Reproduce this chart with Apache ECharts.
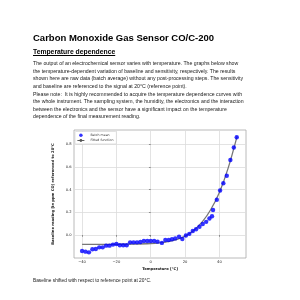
<!DOCTYPE html>
<html>
<head>
<meta charset="utf-8">
<script src="https://cdn.jsdelivr.net/npm/echarts@6/dist/echarts.min.js"></script>
<style>
body { margin: 0; background: #fff; }
#page { position: relative; width: 300px; height: 300px; overflow: hidden; font-family: 'Liberation Sans', Arial, sans-serif; color: #1a1a1a; }
#main { position: absolute; left: 0; top: 0; width: 300px; height: 300px; }
.t { position: absolute; left: 33px; white-space: pre; }
#title { top: 33px; font-size: 9.5px; line-height: 9.5px; font-weight: bold; color: #000; }
#sub { top: 49.3px; font-size: 6.8px; line-height: 6.8px; font-weight: bold; text-decoration: underline; color: #000; }
#para { top: 60.4px; font-size: 5.2px; line-height: 7.55px; }
#cap { top: 277.8px; font-size: 4.8px; line-height: 5px; }
</style>
</head>
<body>
<div id="page">
  <div id="main"></div>
  <div class="t" id="title">Carbon Monoxide Gas Sensor CO/C-200</div>
  <div class="t" id="sub">Temperature dependence</div>
  <div class="t" id="para">The output of an electrochemical sensor varies with temperature. The graphs below show
the temperature-dependent variation of baseline and sensitivity, respectively. The results
shown here are raw data (batch average) without any post-processing steps. The sensitivity
and baseline are referenced to the signal at 20°C (reference point).
Please note:  It is highly recommended to acquire the temperature dependence curves with
the whole instrument. The sampling system, the humidity, the electronics and the interaction
between the electronics and the sensor have a significant impact on the temperature
dependence of the final measurement reading.</div>
  <div class="t" id="cap">Baseline shifted with respect to reference point at 20°C.</div>
</div>
<script>
// batch mean points (temperature in °C, baseline in ppm CO)
var temps = [-40, -38, -36, -34, -32, -30, -28, -26, -24, -22, -20, -18, -16, -14, -12, -10, -8, -6, -4, -2,
    0, 2, 4, 6.5, 8.5, 10.5, 12.4, 14.3, 16.5, 18.4, 20.5, 22.5, 24.5, 26.4, 28.4, 30.3, 32.3, 34.2, 35.7, 36.3,
    38.5, 40.4, 42.3, 44.3, 46.4, 48.4, 50.1];
var batchMean = [-0.141, -0.147, -0.153, -0.126, -0.123, -0.109, -0.109, -0.094, -0.094, -0.085, -0.079, -0.091,
    -0.091, -0.091, -0.065, -0.065, -0.065, -0.062, -0.053, -0.053, -0.053, -0.053, -0.059, -0.070, -0.044, -0.044,
    -0.038, -0.030, -0.015, -0.035, -0.004, 0.010, 0.035, 0.050, 0.072, 0.097, 0.116, 0.145, 0.165, 0.220,
    0.311, 0.392, 0.456, 0.522, 0.662, 0.771, 0.862];

// fitted function
var fitTemps = [-40, -30, -20, -10, 0, 5, 10, 15, 20, 25, 30, 35, 40, 45, 50.3];
var fitValues = [-0.083, -0.083, -0.082, -0.080, -0.075, -0.069, -0.058, -0.040, -0.010, 0.040, 0.115, 0.225, 0.375, 0.585, 0.870];

var xTicks = [-40, -20, 0, 20, 40];
var yTicks = [0, 0.2, 0.4, 0.6, 0.8];

var pts = [];
for (var i = 0; i < temps.length; i++) {
    pts.push([temps[i], batchMean[i]]);
}
var fit = [];
for (var j = 0; j < fitTemps.length; j++) {
    fit.push([fitTemps[j], fitValues[j]]);
}

var chartObj = echarts.init(document.getElementById('main'), null, {renderer: 'canvas'});
var chartFont = "'DejaVu Sans', sans-serif";

chartObj.setOption({
    animation: false,
    backgroundColor: 'transparent',
    grid: {
        left: 74, top: 130, width: 172, height: 128,
        show: true, borderColor: '#a8a8a8', borderWidth: 0.8, backgroundColor: '#fff'
    },
    legend: {
        orient: 'vertical', left: 75, top: 131.5,
        padding: [2, 3, 2, 2], itemGap: 2, itemWidth: 7, itemHeight: 3.5,
        backgroundColor: '#fff', borderColor: '#cfcfcf', borderWidth: 0.6, borderRadius: 1,
        textStyle: {fontSize: 3.2, color: '#333', fontFamily: chartFont, padding: [0, 0, 0, 1]},
        data: [
            {name: 'Batch mean', icon: 'circle'},
            {name: 'Fitted function', lineStyle: {width: 0.8, color: '#333'}}
        ]
    },
    xAxis: {
        type: 'value', min: -44.7, max: 55.5,
        name: 'Temperature [°C]', nameLocation: 'middle', nameGap: 9,
        nameTextStyle: {fontSize: 3.7, fontWeight: 'bold', color: '#111', fontFamily: chartFont},
        axisLine: {show: false},
        axisTick: {show: true, length: 1.8, customValues: xTicks, lineStyle: {color: '#555', width: 0.6}},
        axisLabel: {customValues: xTicks, fontSize: 3.7, color: '#222', margin: 2.5, fontFamily: chartFont,
            formatter: function (v) { return v < 0 ? '\u2212' + Math.abs(v) : String(v); }},
        splitLine: {show: true, lineStyle: {color: '#dcdcdc', width: 0.8}}
    },
    yAxis: {
        type: 'value', min: -0.203, max: 0.926,
        name: 'Baseline reading [in ppm CO] referenced to 20°C', nameLocation: 'middle', nameGap: 12, nameRotate: 90,
        nameTextStyle: {fontSize: 3.7, fontWeight: 'bold', color: '#111', fontFamily: chartFont},
        axisLine: {show: false},
        axisTick: {show: true, length: 1.8, customValues: yTicks, lineStyle: {color: '#555', width: 0.6}},
        axisLabel: {customValues: yTicks, fontSize: 3.7, color: '#222', margin: 2.5, fontFamily: chartFont,
            formatter: function (v) { return v.toFixed(1); }},
        splitLine: {show: true, lineStyle: {color: '#dcdcdc', width: 0.8}}
    },
    series: [
        {
            name: 'Fitted function', type: 'line', data: fit, smooth: 0.35,
            symbol: 'none', lineStyle: {color: '#777', width: 1.3}, itemStyle: {color: '#555'}, z: 2
        },
        {
            name: 'Batch mean', type: 'scatter', data: pts, symbolSize: 4.4,
            itemStyle: {color: '#0000ff'}, z: 3
        }
    ]
});
</script>
</body>
</html>
